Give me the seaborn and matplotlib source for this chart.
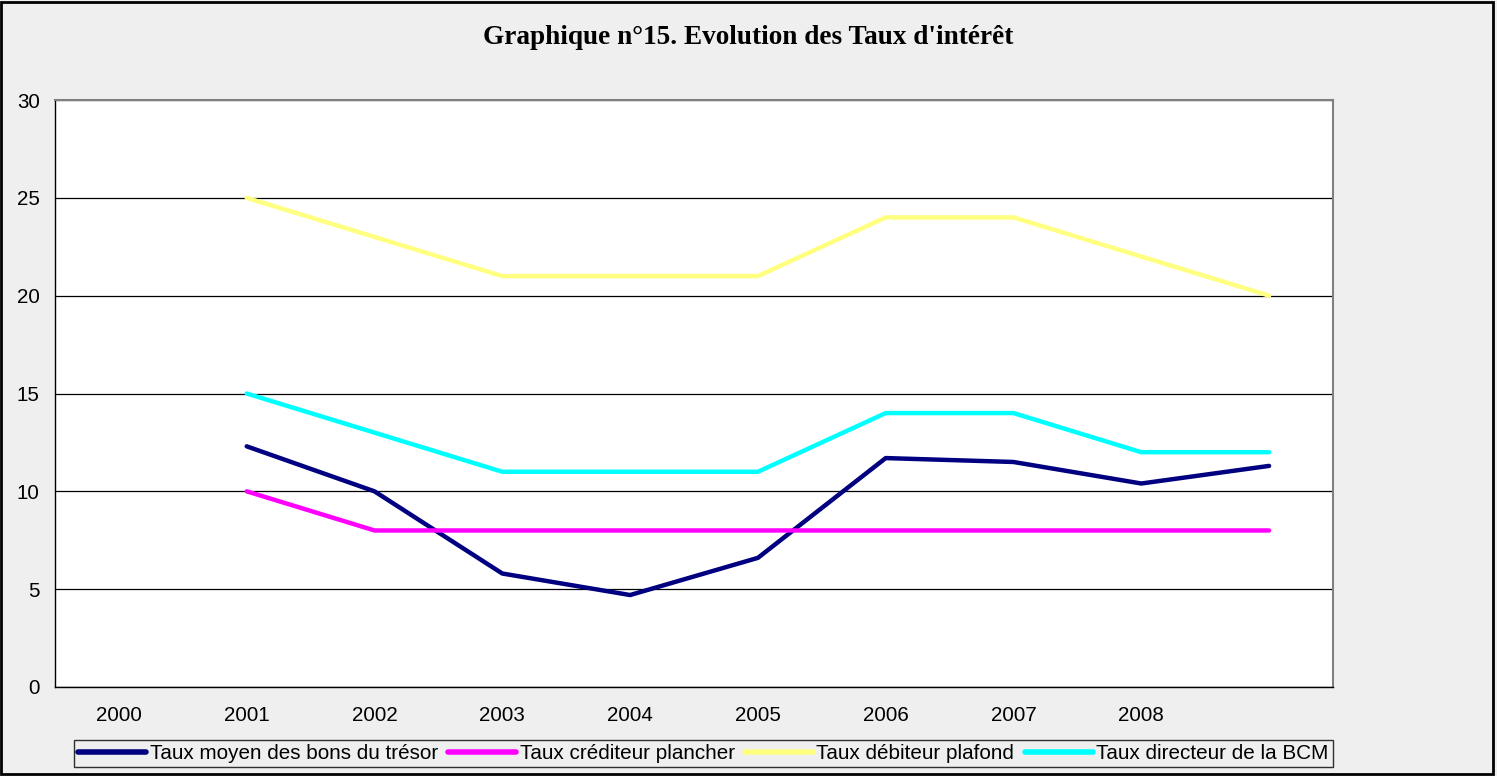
import numpy as np
import pandas as pd
import matplotlib
matplotlib.use("Agg")
import matplotlib.pyplot as plt
from matplotlib.patches import Rectangle
import seaborn as sns

# =============================================================================
# Data
# =============================================================================
years = ["2000", "2001", "2002", "2003", "2004", "2005", "2006", "2007", "2008", ""]

taux_bons_tresor = [np.nan, 12.3, 10.0, 5.8, 4.7, 6.6, 11.7, 11.5, 10.4, 11.3]
taux_crediteur = [np.nan, 10, 8, 8, 8, 8, 8, 8, 8, 8]
taux_debiteur = [np.nan, 25, 23, 21, 21, 21, 24, 24, 22, 20]
taux_directeur = [np.nan, 15, 13, 11, 11, 11, 14, 14, 12, 12]

series_names = [
    "Taux moyen des bons du trésor",
    "Taux créditeur plancher",
    "Taux débiteur plafond",
    "Taux directeur de la BCM",
]
series_colors = ["#000080", "#FF00FF", "#FFFF80", "#00FFFF"]

df = pd.DataFrame({
    "pos": list(range(len(years))) * 4,
    "taux": taux_bons_tresor + taux_crediteur + taux_debiteur + taux_directeur,
    "serie": [n for n in series_names for _ in years],
}).dropna()

# =============================================================================
# Figure
# =============================================================================
sns.set_theme(style="white")
plt.rcParams["font.family"] = ["Liberation Sans", "DejaVu Sans"]
plt.rcParams.update({"text.color": "black", "xtick.color": "black",
                     "ytick.color": "black", "axes.labelcolor": "black"})

bg = "#EFEFEF"
fig = plt.figure(figsize=(14.97, 7.76), dpi=100, facecolor=bg)
ax = fig.add_axes([55 / 1497, 1 - 687 / 776, (1333 - 55) / 1497, (687 - 100) / 776])
ax.set_facecolor("white")

sns.lineplot(data=df, x="pos", y="taux", hue="serie", hue_order=series_names,
             palette=dict(zip(series_names, series_colors)), linewidth=3.2,
             sort=False, ax=ax, legend=True)

# axes / grid
ax.set_xlim(-0.5, len(years) - 0.5)
ax.set_ylim(0, 30)
ax.set_yticks(range(0, 31, 5))
ax.yaxis.grid(True, color="black", linewidth=0.9)
ax.set_axisbelow(True)
ax.set_xticks(np.arange(-0.5, len(years), 1.0))
ax.set_xticklabels([])
ax.set_xticks(range(len(years)), minor=True)
ax.set_xticklabels(years, minor=True, fontsize=14.8)
ax.tick_params(axis="x", which="major", length=6, width=1, color="black", direction="out")
ax.tick_params(axis="x", which="minor", length=0, pad=14)
ax.tick_params(axis="y", length=6, width=1, color="black", direction="out", labelsize=14.8, pad=5)
ax.set_xlabel("")
ax.set_ylabel("")
for side in ["left", "bottom"]:
    ax.spines[side].set_color("black")
    ax.spines[side].set_linewidth(1)
for side in ["top", "right"]:
    ax.spines[side].set_color("#808080")
    ax.spines[side].set_linewidth(1.5)

# title
fig.text(0.5, 1 - 37 / 776, "Graphique n°15. Evolution des Taux d'intérêt",
         ha="center", va="center", fontsize=19.6, fontweight="bold", color="black",
         family=["Liberation Serif", "DejaVu Serif"])

# legend
handles, labels = ax.get_legend_handles_labels()
ax.get_legend().remove()
leg = fig.legend(handles, labels, ncol=4, loc="lower left",
                 bbox_to_anchor=(74 / 1497, 1 - 767 / 776), fontsize=14.9,
                 frameon=True, fancybox=False, facecolor=bg, edgecolor="black",
                 handlelength=3.3, handletextpad=0.15, columnspacing=0.5,
                 borderpad=0.2, borderaxespad=0)
leg.get_frame().set_linewidth(1)
for h in leg.get_lines():
    h.set_linewidth(4)

# outer chart border
fig.patches.append(Rectangle((0.001, 0.002), 0.996, 0.996, transform=fig.transFigure,
                             fill=False, edgecolor="black", linewidth=2))

fig.savefig("out.png", dpi=100, facecolor=bg)
